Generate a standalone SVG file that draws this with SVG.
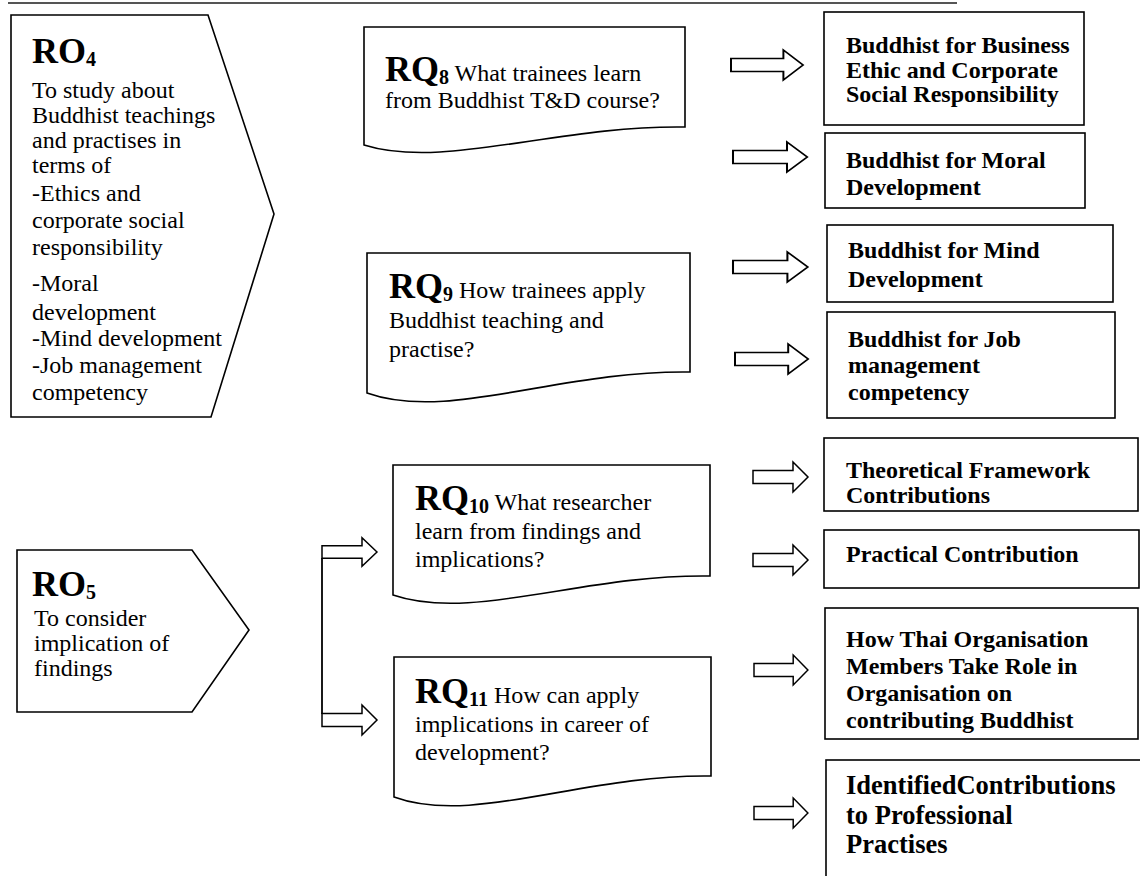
<svg xmlns="http://www.w3.org/2000/svg" width="1140" height="876" viewBox="0 0 1140 876">
<style>
  text { font-family: "Liberation Serif", "Times New Roman", serif; font-size: 24px; fill: #000; }
  .shape { fill: #fff; stroke: #000; stroke-width: 1.6; }
  .big { font-weight: bold; font-size: 36px; }
  .sub { font-weight: bold; font-size: 20px; }
  .bold { font-weight: bold; }
  .arrow { fill: #fff; stroke: #000; stroke-width: 1.5; stroke-linejoin: miter; }
  .conn { fill: none; stroke: #000; stroke-width: 1.8; }
</style>
<defs>
  <polygon id="arr" points="0,-6.5 40,-6.5 40,-15 55,0 40,15 40,6.5 0,6.5"/>
</defs>
<rect width="1140" height="876" fill="#fff"/>
<line x1="8" y1="3" x2="957" y2="3" stroke="#555" stroke-width="2"/>

<g id="RO4">
  <polygon class="shape" points="11,15 208,15 274,214 211,417 11,417"/>
  <text x="32" y="63"><tspan class="big">RO</tspan><tspan class="sub" dy="3">4</tspan></text>
  <text x="32" y="98">To study about</text>
  <text x="32" y="123">Buddhist teachings</text>
  <text x="32" y="148">and practises in</text>
  <text x="32" y="173">terms of</text>
  <text x="32" y="201">-Ethics and</text>
  <text x="32" y="228">corporate social</text>
  <text x="32" y="255">responsibility</text>
  <text x="32" y="291">-Moral</text>
  <text x="32" y="320">development</text>
  <text x="32" y="346">-Mind development</text>
  <text x="32" y="373">-Job management</text>
  <text x="32" y="400">competency</text>
</g>

<g id="RO5">
  <polygon class="shape" points="17,550 192,550 249,630 192,712 17,712"/>
  <text x="32" y="596"><tspan class="big">RO</tspan><tspan class="sub" dy="3">5</tspan></text>
  <text x="34" y="626">To consider</text>
  <text x="34" y="651">implication of</text>
  <text x="34" y="676">findings</text>
</g>

<g id="RQ8">
  <path class="shape" d="M364,27 H685 V127 C557,125 444,170 364,145 Z"/>
  <text x="385" y="81"><tspan class="big">RQ</tspan><tspan class="sub" dy="3">8</tspan><tspan dy="-3"> What trainees learn</tspan></text>
  <text x="385" y="108">from Buddhist T&amp;D course?</text>
</g>

<g id="RQ9">
  <path class="shape" d="M367,253 H690 V372 C560,370 448,422 367,393 Z"/>
  <text x="389" y="298"><tspan class="big">RQ</tspan><tspan class="sub" dy="3">9</tspan><tspan dy="-3"> How trainees apply</tspan></text>
  <text x="389" y="328">Buddhist teaching and</text>
  <text x="389" y="357">practise?</text>
</g>

<g id="RQ10">
  <path class="shape" d="M393,465 H710 V576 C583,574 472,622 393,595 Z"/>
  <text x="415" y="510"><tspan class="big">RQ</tspan><tspan class="sub" dy="3">10</tspan><tspan dy="-3"> What researcher</tspan></text>
  <text x="415" y="539">learn from findings and</text>
  <text x="415" y="567">implications?</text>
</g>

<g id="RQ11">
  <path class="shape" d="M394,657 H711 V776 C584,774 473,826 394,797 Z"/>
  <text x="415" y="703"><tspan class="big">RQ</tspan><tspan class="sub" dy="3">11</tspan><tspan dy="-3"> How can apply</tspan></text>
  <text x="415" y="732">implications in career of</text>
  <text x="415" y="760">development?</text>
</g>

<g id="B1">
  <rect class="shape" x="824" y="12" width="260" height="113"/>
  <text class="bold" x="846" y="53">Buddhist for Business</text>
  <text class="bold" x="846" y="78">Ethic and Corporate</text>
  <text class="bold" x="846" y="102">Social Responsibility</text>
</g>
<g id="B2">
  <rect class="shape" x="825" y="133" width="260" height="75"/>
  <text class="bold" x="846" y="168">Buddhist for Moral</text>
  <text class="bold" x="846" y="195">Development</text>
</g>
<g id="B3">
  <rect class="shape" x="827" y="225" width="286" height="77"/>
  <text class="bold" x="848" y="258">Buddhist for Mind</text>
  <text class="bold" x="848" y="287">Development</text>
</g>
<g id="B4">
  <rect class="shape" x="827" y="312" width="288" height="106"/>
  <text class="bold" x="848" y="347">Buddhist for Job</text>
  <text class="bold" x="848" y="373">management</text>
  <text class="bold" x="848" y="400">competency</text>
</g>
<g id="B5">
  <rect class="shape" x="824" y="438" width="314" height="73"/>
  <text class="bold" x="846" y="478">Theoretical Framework</text>
  <text class="bold" x="846" y="503">Contributions</text>
</g>
<g id="B6">
  <rect class="shape" x="824" y="530" width="315" height="58"/>
  <text class="bold" x="846" y="562">Practical Contribution</text>
</g>
<g id="B7">
  <rect class="shape" x="825" y="608" width="313" height="131"/>
  <text class="bold" x="846" y="647">How Thai Organisation</text>
  <text class="bold" x="846" y="674">Members Take Role in</text>
  <text class="bold" x="846" y="701">Organisation on</text>
  <text class="bold" x="846" y="728">contributing Buddhist</text>
</g>
<g id="B8">
  <rect class="shape" x="826" y="760" width="318" height="124"/>
  <text class="bold" x="846" y="794" style="font-size:26.5px">IdentifiedContributions</text>
  <text class="bold" x="846" y="824" style="font-size:26.5px">to Professional</text>
  <text class="bold" x="846" y="853" style="font-size:26.5px">Practises</text>
</g>

<g id="connectors">
  <line class="conn" x1="322" y1="558" x2="322" y2="714"/>
  <use href="#arr" class="arrow" transform="translate(322,552) scale(1,0.95)"/>
  <use href="#arr" class="arrow" transform="translate(322,720)"/>
  <use href="#arr" class="arrow" transform="translate(731,65) scale(1.31,1)"/>
  <use href="#arr" class="arrow" transform="translate(733,157) scale(1.35,1)"/>
  <use href="#arr" class="arrow" transform="translate(733,267) scale(1.36,1)"/>
  <use href="#arr" class="arrow" transform="translate(735,359) scale(1.33,1)"/>
  <use href="#arr" class="arrow" transform="translate(753,477)"/>
  <use href="#arr" class="arrow" transform="translate(753,560)"/>
  <use href="#arr" class="arrow" transform="translate(754,670) scale(0.98,1)"/>
  <use href="#arr" class="arrow" transform="translate(754,813) scale(0.98,1)"/>
</g>
</svg>
